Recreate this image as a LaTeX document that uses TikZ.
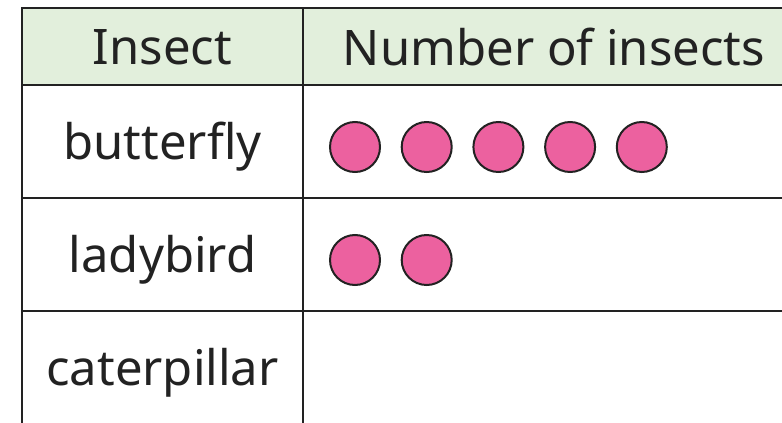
\documentclass[tikz,border=0pt]{standalone}
\usepackage{fontspec}
\setmainfont{Noto Sans}
\usepackage{tikz}
\usetikzlibrary{positioning}
\definecolor{headgreen}{HTML}{E2EFDC}
\definecolor{bugpink}{HTML}{EC619F}
\definecolor{rule}{HTML}{222222}

\begin{document}
\begin{tikzpicture}[x=1pt, y=-1pt]
\tikzstyle{label}=[inner sep=0pt, font=\fontsize{49}{58}\selectfont, text=rule]
\tikzstyle{dot}=[circle, draw=rule, line width=2pt, fill=bugpink,
                 minimum size=50pt, inner sep=0pt]
\useasboundingbox (0,0) rectangle (782,423);
\clip (0,0) rectangle (782,423);
\fill[headgreen] (22,8) rectangle (790,85);
% grid
\draw[rule, line width=2pt] (790,8) -- (22,8) -- (22,430);
\draw[rule, line width=2pt] (303,8) -- (303,430);
\foreach \y in {85,198,311}
  \draw[rule, line width=2pt] (22,\y) -- (790,\y);
% headings
\node[label] (insect) at (162.5,47) {Insect};
\node[label] (number) at (554,47) {Number of insects};
% rows
\node[label] (butterfly) at (162.5,147) {butterfly};
\node[label] (ladybird) at (162.5,260) {ladybird};
\node[label] (caterpillar) at (162.5,373) {caterpillar};
\foreach \i in {0,...,4}
  \node[dot] (b\i) at (355+71.7*\i,147) {};
\foreach \i in {0,1}
  \node[dot] (l\i) at (355+71.7*\i,260) {};
\end{tikzpicture}
\end{document}
